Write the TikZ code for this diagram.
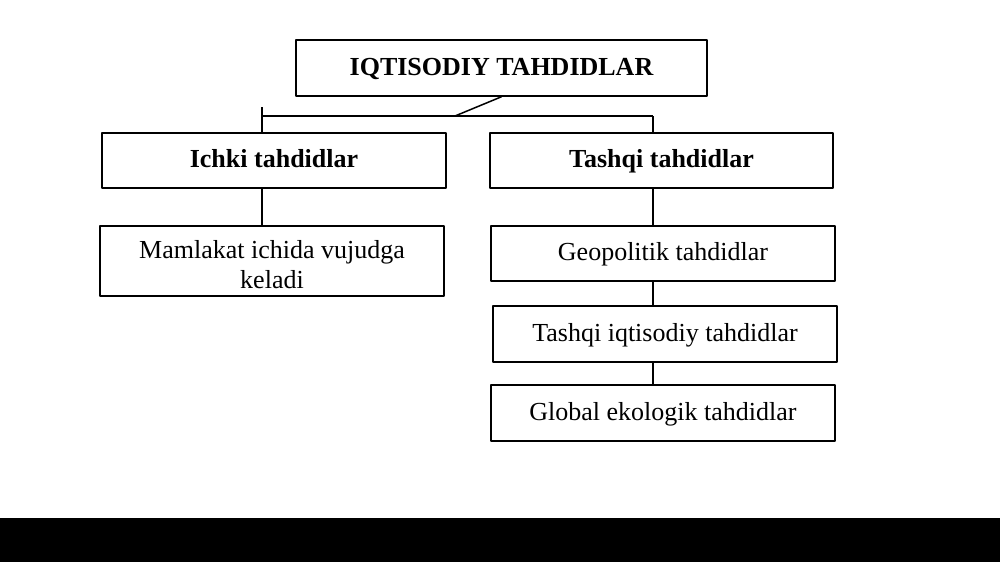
\documentclass[tikz,border=0pt]{standalone}
\usepackage{fontspec}
\setmainfont{Liberation Serif}
\begin{document}
\begin{tikzpicture}[x=1pt,y=-1pt,line join=bevel,
  box/.style={draw,line width=1.5pt,inner sep=0pt,align=center,minimum width=344pt,minimum height=55pt,text height=19pt,text depth=6pt,font=\fontsize{26}{30}\selectfont},
  headbox/.style={box,font=\fontsize{26}{30}\selectfont\bfseries}]
  \pgfsetlinewidth{1.5pt}
  \useasboundingbox (0,0) rectangle (1000,562);
  \fill[black] (0,518) rectangle (1000,562);
%%
  % Node: Root
  \node[headbox,minimum width=411pt,minimum height=56pt,text height=20pt,text depth=5pt] (Root) at (501.5,68) {IQTISODIY TAHDIDLAR};
  % Node: Ichki
  \node[headbox] (Ichki) at (274,160.5) {Ichki tahdidlar};
  % Node: Tashqi
  \node[headbox,minimum width=343pt] (Tashqi) at (661.5,160.5) {Tashqi tahdidlar};
  % Node: Mamlakat
  \node[box,minimum height=70pt,text height=,text depth=,
    label={[font=\fontsize{26}{30}\selectfont,align=center,yshift=-4pt]center:Mamlakat ichida vujudga\\keladi}] (Mamlakat) at (272,261) {};
  % Node: Geopolitik
  \node[box] (Geopolitik) at (663,253.5) {Geopolitik tahdidlar};
  % Node: TashqiIqt
  \node[box,minimum height=56pt,text height=20pt,text depth=5pt] (TashqiIqt) at (665,334) {Tashqi iqtisodiy tahdidlar};
  % Node: Global
  \node[box,minimum height=56pt,text height=20pt,text depth=5pt] (Global) at (663,413) {Global ekologik tahdidlar};
%%
  \coordinate (Joint) at (455,116);
  \coordinate (BarL) at (262,116);
  \coordinate (BarR) at (653,116);
  \coordinate (TopL) at (262,107);
  % Edge: Root -> bar
  \draw (Root.south) -- (Joint);
  \draw (BarL) -- (BarR);
  % Edge: bar -> Ichki
  \draw (TopL) -- (Ichki.north -| TopL);
  % Edge: bar -> Tashqi
  \draw (BarR) -- (Tashqi.north -| BarR);
  % Edge: Ichki -> Mamlakat
  \draw (Ichki.south -| TopL) -- (Mamlakat.north -| TopL);
  % Edge: Tashqi -> Geopolitik
  \draw (Tashqi.south -| BarR) -- (Geopolitik.north -| BarR);
  % Edge: Geopolitik -> TashqiIqt
  \draw (Geopolitik.south -| BarR) -- (TashqiIqt.north -| BarR);
  % Edge: TashqiIqt -> Global
  \draw (TashqiIqt.south -| BarR) -- (Global.north -| BarR);
%
\end{tikzpicture}
\end{document}
